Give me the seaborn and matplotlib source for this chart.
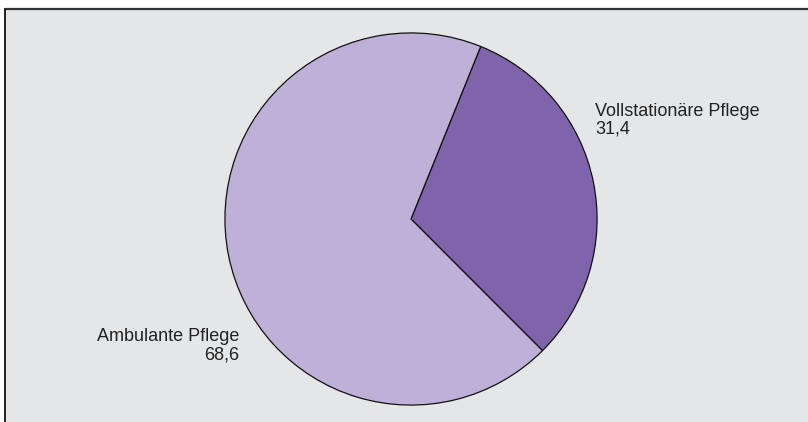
import seaborn as sns
import matplotlib.pyplot as plt
from matplotlib.patches import Rectangle
from matplotlib.lines import Line2D

# Anteile in Prozent
labels = ['Vollstationäre Pflege', 'Ambulante Pflege']
values = [31.4, 68.6]
value_texts = ['31,4', '68,6']
colors = ['#8064ab', '#bfb0d7']

sns.set_style('white')
plt.rcParams['font.family'] = ['Liberation Sans', 'DejaVu Sans']

W, H = 808, 422
fig = plt.figure(figsize=(W / 100, H / 100), dpi=100)
fig.patch.set_facecolor('white')

# grauer Hintergrund mit Rahmen oben und links
fig.patches.append(Rectangle((4.5 / W, 0), 1, (H - 8.5) / H, transform=fig.transFigure,
                             facecolor='#e5e6e8', edgecolor='none', zorder=-5))
fig.lines.append(Line2D([4.5 / W, 1], [(H - 8.5) / H] * 2, transform=fig.transFigure,
                        color='#333333', lw=1.6, zorder=-4))
fig.lines.append(Line2D([4.5 / W] * 2, [0, (H - 8.5) / H], transform=fig.transFigure,
                        color='#222222', lw=1.4, zorder=-4))

cx, cy, r = 411, 219, 187
ax = fig.add_axes([(cx - r) / W, (H - cy - r) / H, 2 * r / W, 2 * r / H])
ax.set_zorder(2)
ax.pie(values, colors=sns.color_palette(colors), startangle=68, counterclock=False,
       wedgeprops=dict(edgecolor='#111111', linewidth=0.9))
ax.set_xlim(-1.005, 1.005)
ax.set_ylim(-1.005, 1.005)
ax.set_aspect('equal')
ax.axis('off')

fs = 13
fig.text(595 / W, 1 - 116 / H, labels[0], fontsize=fs, color='#222222', ha='left', va='baseline')
fig.text(595 / W, 1 - 134 / H, value_texts[0], fontsize=fs, color='#222222', ha='left', va='baseline')
fig.text(239 / W, 1 - 341 / H, labels[1], fontsize=fs, color='#222222', ha='right', va='baseline')
fig.text(239 / W, 1 - 359 / H, value_texts[1], fontsize=fs, color='#222222', ha='right', va='baseline')

fig.savefig('out.png', dpi=100)
plt.close()
